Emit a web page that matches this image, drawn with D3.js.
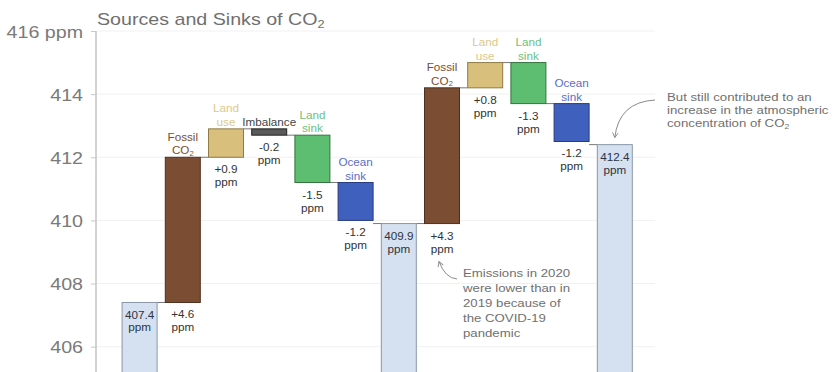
<!DOCTYPE html>
<html>
<head>
<meta charset="utf-8">
<script src="https://cdn.jsdelivr.net/npm/d3@7"></script>
<style>
  body { margin: 0; background: #fff; }
  svg { display: block; font-family: "Liberation Sans", Arial, Helvetica, sans-serif; }
</style>
</head>
<body>
<svg width="834" height="372"></svg>
<script>
// Waterfall steps, left to right
var steps = ['t2019', 'fossil19', 'landuse19', 'imbalance', 'landsink19', 'ocean19',
             't2020', 'fossil20', 'landuse20', 'landsink20', 'ocean20', 't2021'];
var kinds = ['total', 'fossil', 'landuse', 'imbalance', 'landsink', 'ocean',
             'total', 'fossil', 'landuse', 'landsink', 'ocean', 'total'];
// totals are absolute ppm, the rest are changes in ppm
var values = [407.4, 4.6, 0.9, -0.2, -1.5, -1.2, 409.9, 4.3, 0.8, -1.3, -1.2, 412.4];
// category label lines above each change bar
var catLabels = [[], ['Fossil', 'CO2'], ['Land', 'use'], ['Imbalance'], ['Land', 'sink'], ['Ocean', 'sink'],
                 [], ['Fossil', 'CO2'], ['Land', 'use'], ['Land', 'sink'], ['Ocean', 'sink'], []];
var tickValues = [406, 408, 410, 412, 414, 416];

var colors = {
    total: '#d5e1f0', fossil: '#7b4e33', landuse: '#d9bf7c', imbalance: '#5a5a5a',
    landsink: '#5dbd71', ocean: '#4060bd'
};
var strokes = {
    total: '#8a97a6', fossil: '#4e3020', landuse: '#8f7b45', imbalance: '#222',
    landsink: '#33733f', ocean: '#253a80'
};
var labelColors = {
    fossil: '#7b4e33', landuse: '#dcc88c', imbalance: '#444', landsink: '#6cc27e', ocean: '#5a6ec6'
};

var SX = 1.17; // the reference text is a bit wider than it is tall

var svg = d3.select('svg');

var x = d3.scaleBand()
    .domain(steps)
    .range([118, 636.4])
    .paddingInner(0.19)
    .paddingOuter(0.095);

var y = d3.scaleLinear()
    .domain([404, 416])
    .range([409.8, 31]);

// build running levels for the waterfall
var bars = [];
var level = 0;
steps.forEach(function(s, i) {
    var k = kinds[i];
    if (k === 'total') {
        bars.push({key: s, kind: k, lo: 404, hi: values[i], from: values[i], to: values[i], v: values[i], lines: catLabels[i]});
        level = values[i];
    } else {
        var next = +(level + values[i]).toFixed(2);
        bars.push({key: s, kind: k, lo: Math.min(level, next), hi: Math.max(level, next), from: level, to: next, v: values[i], lines: catLabels[i]});
        level = next;
    }
});

// text helper: stretched horizontally like the reference
function stretchText(g, px, py, anchor, size, color) {
    return g.append('text')
        .attr('transform', 'translate(' + px + ',' + py + ') scale(' + SX + ',1)')
        .attr('text-anchor', anchor)
        .attr('font-size', size)
        .attr('fill', color);
}

function addCO2(t, word) {
    if (word === 'CO2') {
        t.append('tspan').text('CO');
        t.append('tspan').attr('font-size', '0.65em').attr('dy', '0.25em').text('2');
    } else {
        t.text(word);
    }
}

// gridlines
svg.append('g')
    .selectAll('line')
    .data(tickValues)
    .enter()
    .append('line')
    .attr('x1', 97)
    .attr('x2', 655)
    .attr('y1', d => y(d))
    .attr('y2', d => y(d))
    .attr('stroke', '#f1f1f1')
    .attr('stroke-width', 1);

// y axis
var yAxis = d3.axisLeft(y)
    .tickValues(tickValues)
    .tickSize(5)
    .tickFormat(d => d === 416 ? '416 ppm' : d);

var axisG = svg.append('g')
    .attr('transform', 'translate(96,0)')
    .call(yAxis);
axisG.select('.domain')
    .attr('d', 'M0,' + y(416) + 'V372')
    .attr('stroke', '#d2d2d2')
    .attr('stroke-width', 2);
axisG.selectAll('.tick line').attr('stroke', '#c8c8c8');
axisG.selectAll('.tick text')
    .attr('x', null)
    .attr('dy', null)
    .attr('transform', 'translate(-13,6) scale(' + SX + ',1)')
    .attr('font-family', 'inherit')
    .attr('font-size', 16.8)
    .attr('fill', '#7a7a7a');

// title
var title = stretchText(svg, 97, 25, 'start', 16.8, '#707070');
title.append('tspan').text('Sources and Sinks of CO');
title.append('tspan').attr('font-size', '0.65em').attr('dy', '0.3em').text('2');

// connectors between bars
var conn = svg.append('g');
bars.forEach(function(b, i) {
    if (i === 0) return;
    var prev = bars[i - 1];
    conn.append('line')
        .attr('x1', x(prev.key) + x.bandwidth())
        .attr('x2', x(b.key))
        .attr('y1', y(b.kind === 'total' ? b.v : b.from))
        .attr('y2', y(b.kind === 'total' ? b.v : b.from))
        .attr('stroke', '#555')
        .attr('stroke-width', 0.8);
});

// bars
svg.append('g')
    .selectAll('rect')
    .data(bars)
    .enter()
    .append('rect')
    .attr('x', d => x(d.key))
    .attr('width', x.bandwidth())
    .attr('y', d => y(d.hi))
    .attr('height', d => y(d.lo) - y(d.hi))
    .attr('fill', d => colors[d.kind])
    .attr('stroke', d => strokes[d.kind])
    .attr('stroke-width', 1);

// labels
var labG = svg.append('g');
bars.forEach(function(b) {
    var cx = x(b.key) + x.bandwidth() / 2;
    if (b.kind === 'total') {
        stretchText(labG, cx, y(b.hi) + 16.5, 'middle', 10, '#2d3340').text(b.v.toFixed(1));
        stretchText(labG, cx, y(b.hi) + 29, 'middle', 10, '#2d3340').text('ppm');
        return;
    }
    var n = b.lines.length;
    b.lines.forEach(function(line, j) {
        var t = stretchText(labG, cx, y(b.hi) - 3 - (n - 1 - j) * 13.5, 'middle', 10, labelColors[b.kind]);
        addCO2(t, line);
    });
    var sign = b.v > 0 ? '+' : '';
    stretchText(labG, cx, y(b.lo) + 16, 'middle', 10, '#333').text(sign + b.v.toFixed(1));
    stretchText(labG, cx, y(b.lo) + 29, 'middle', 10, '#333').text('ppm');
});

// annotations
svg.append('defs').append('marker')
    .attr('id', 'arrow')
    .attr('viewBox', '0 0 10 10')
    .attr('refX', 8)
    .attr('refY', 5)
    .attr('markerWidth', 7)
    .attr('markerHeight', 7)
    .attr('orient', 'auto-start-reverse')
    .append('path')
    .attr('d', 'M1,1 L8,5 L1,9')
    .attr('fill', 'none')
    .attr('stroke', '#8a8a8a')
    .attr('stroke-width', 1.3);

var annG = svg.append('g');

var lastBar = bars[bars.length - 1];
var ax1 = x(lastBar.key) + x.bandwidth() / 2;
var ay1 = y(lastBar.hi) - 7;
var p1 = d3.path();
p1.moveTo(655, 100);
p1.quadraticCurveTo(ax1 + 4, 102, ax1, ay1);
annG.append('path')
    .attr('d', p1.toString())
    .attr('fill', 'none')
    .attr('stroke', '#8a8a8a')
    .attr('stroke-width', 1)
    .attr('marker-end', 'url(#arrow)');

var note1 = ['But still contributed to an', 'increase in the atmospheric', 'concentration of CO2'];
note1.forEach(function(line, j) {
    var t = stretchText(annG, 667, 100.5 + j * 13.3, 'start', 11.3, '#707070');
    if (j === 2) {
        t.append('tspan').text('concentration of CO');
        t.append('tspan').attr('font-size', '0.65em').attr('dy', '0.3em').text('2');
    } else {
        t.text(line);
    }
});

var fossil20 = bars[7];
var ax2 = x(fossil20.key) + x.bandwidth() / 2 - 3;
var ay2 = y(fossil20.lo) + 38;
var p2 = d3.path();
p2.moveTo(457, 279);
p2.quadraticCurveTo(445, 278, ax2, ay2);
annG.append('path')
    .attr('d', p2.toString())
    .attr('fill', 'none')
    .attr('stroke', '#8a8a8a')
    .attr('stroke-width', 1)
    .attr('marker-end', 'url(#arrow)');

var note2 = ['Emissions in 2020', 'were lower than in', '2019 because of', 'the COVID-19', 'pandemic'];
note2.forEach(function(line, j) {
    stretchText(annG, 463, 277 + j * 15, 'start', 11.3, '#707070').text(line);
});
</script>
</body>
</html>
